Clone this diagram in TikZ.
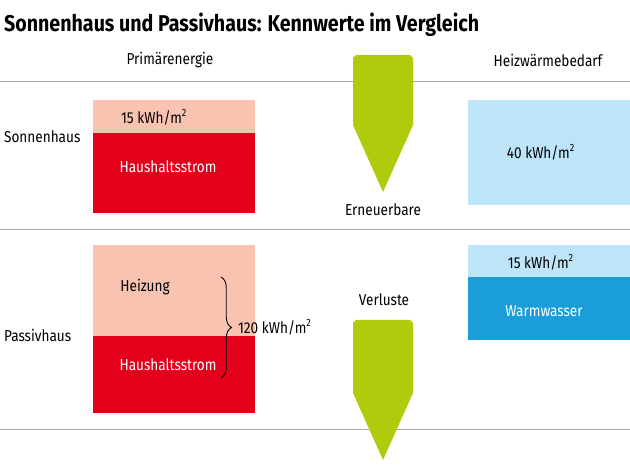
\documentclass[tikz,border=0pt]{standalone}
\usepackage{fontspec}
\setmainfont[FakeStretch=0.86]{Fira Sans}
\usetikzlibrary{positioning,decorations.pathreplacing}
\definecolor{lightred}{HTML}{F8C4B1}
\definecolor{strongred}{HTML}{E3001B}
\definecolor{lightblue}{HTML}{BEE4F8}
\definecolor{strongblue}{HTML}{1A9DD9}
\definecolor{limegreen}{HTML}{B0CB0B}

\begin{document}
\begin{tikzpicture}[
    x=0.02cm, y=-0.02cm,
    font=\small,
    caption/.style={font=\small, inner sep=1pt},
    whitetext/.style={font=\small, text=white, inner sep=1pt},
    rule/.style={draw=gray!70, line width=0.5pt},
    greenarrow/.style={fill=limegreen, draw=none}
]
\useasboundingbox (0,0) rectangle (630,466);

% Title and column heads
\node[anchor=west, font=\bfseries\fontsize{13}{15}\selectfont, inner sep=1pt] (title) at (2,25) {Sonnenhaus und Passivhaus: Kennwerte im Vergleich};
\node[caption] (prim) at (170,60) {Primärenergie};
\node[caption] (heiz) at (548,60) {Heizwärmebedarf};

% Rules
\draw[rule] (0,81) -- (630,81);
\draw[rule] (0,229) -- (630,229);
\draw[rule] (0,429) -- (630,429);

% Sonnenhaus
\node[caption, anchor=west] (sonne) at (2,137) {Sonnenhaus};
\fill[lightred] (93,100) rectangle (255,133);
\fill[strongred] (93,133) rectangle (255,213);
\node[caption, anchor=west] (sonneheiz) at (119,117) {15 kWh/m\textsuperscript{2}};
\node[whitetext] (sonnestrom) at (168,167) {Haushaltsstrom};
\fill[lightblue] (468,100) rectangle (630,205);
\node[caption] (sonnebedarf) at (541,152) {40 kWh/m\textsuperscript{2}};

\fill[greenarrow] (356,55) -- (410,55) -- (413,58) -- (413,125) -- (383,192) -- (353,125) -- (353,58) -- cycle;
\node[caption] (erneuerbar) at (383,210) {Erneuerbare};

% Passivhaus
\node[caption, anchor=west] (passiv) at (2,335) {Passivhaus};
\fill[lightred] (93,245) rectangle (255,336);
\fill[strongred] (93,336) rectangle (255,413);
\node[caption] (passivheiz) at (145,287) {Heizung};
\node[whitetext] (passivstrom) at (168,365) {Haushaltsstrom};
\coordinate (bracetop) at (221,277);
\coordinate (bracebot) at (221,378);
\draw[decorate, decoration={brace, amplitude=6pt}, line width=0.5pt] (bracetop) -- (bracebot);
\node[caption, anchor=west] (summe) at (236,327) {120 kWh/m\textsuperscript{2}};

\fill[lightblue] (468,245) rectangle (630,277);
\fill[strongblue] (468,277) rectangle (630,340);
\node[caption] (passivbedarf) at (541,262) {15 kWh/m\textsuperscript{2}};
\node[whitetext] (wasser) at (544,311) {Warmwasser};

\node[caption] (verlust) at (384,300) {Verluste};
\fill[greenarrow] (356,320) -- (410,320) -- (413,323) -- (413,393) -- (383,460) -- (353,393) -- (353,323) -- cycle;
\end{tikzpicture}
\end{document}
